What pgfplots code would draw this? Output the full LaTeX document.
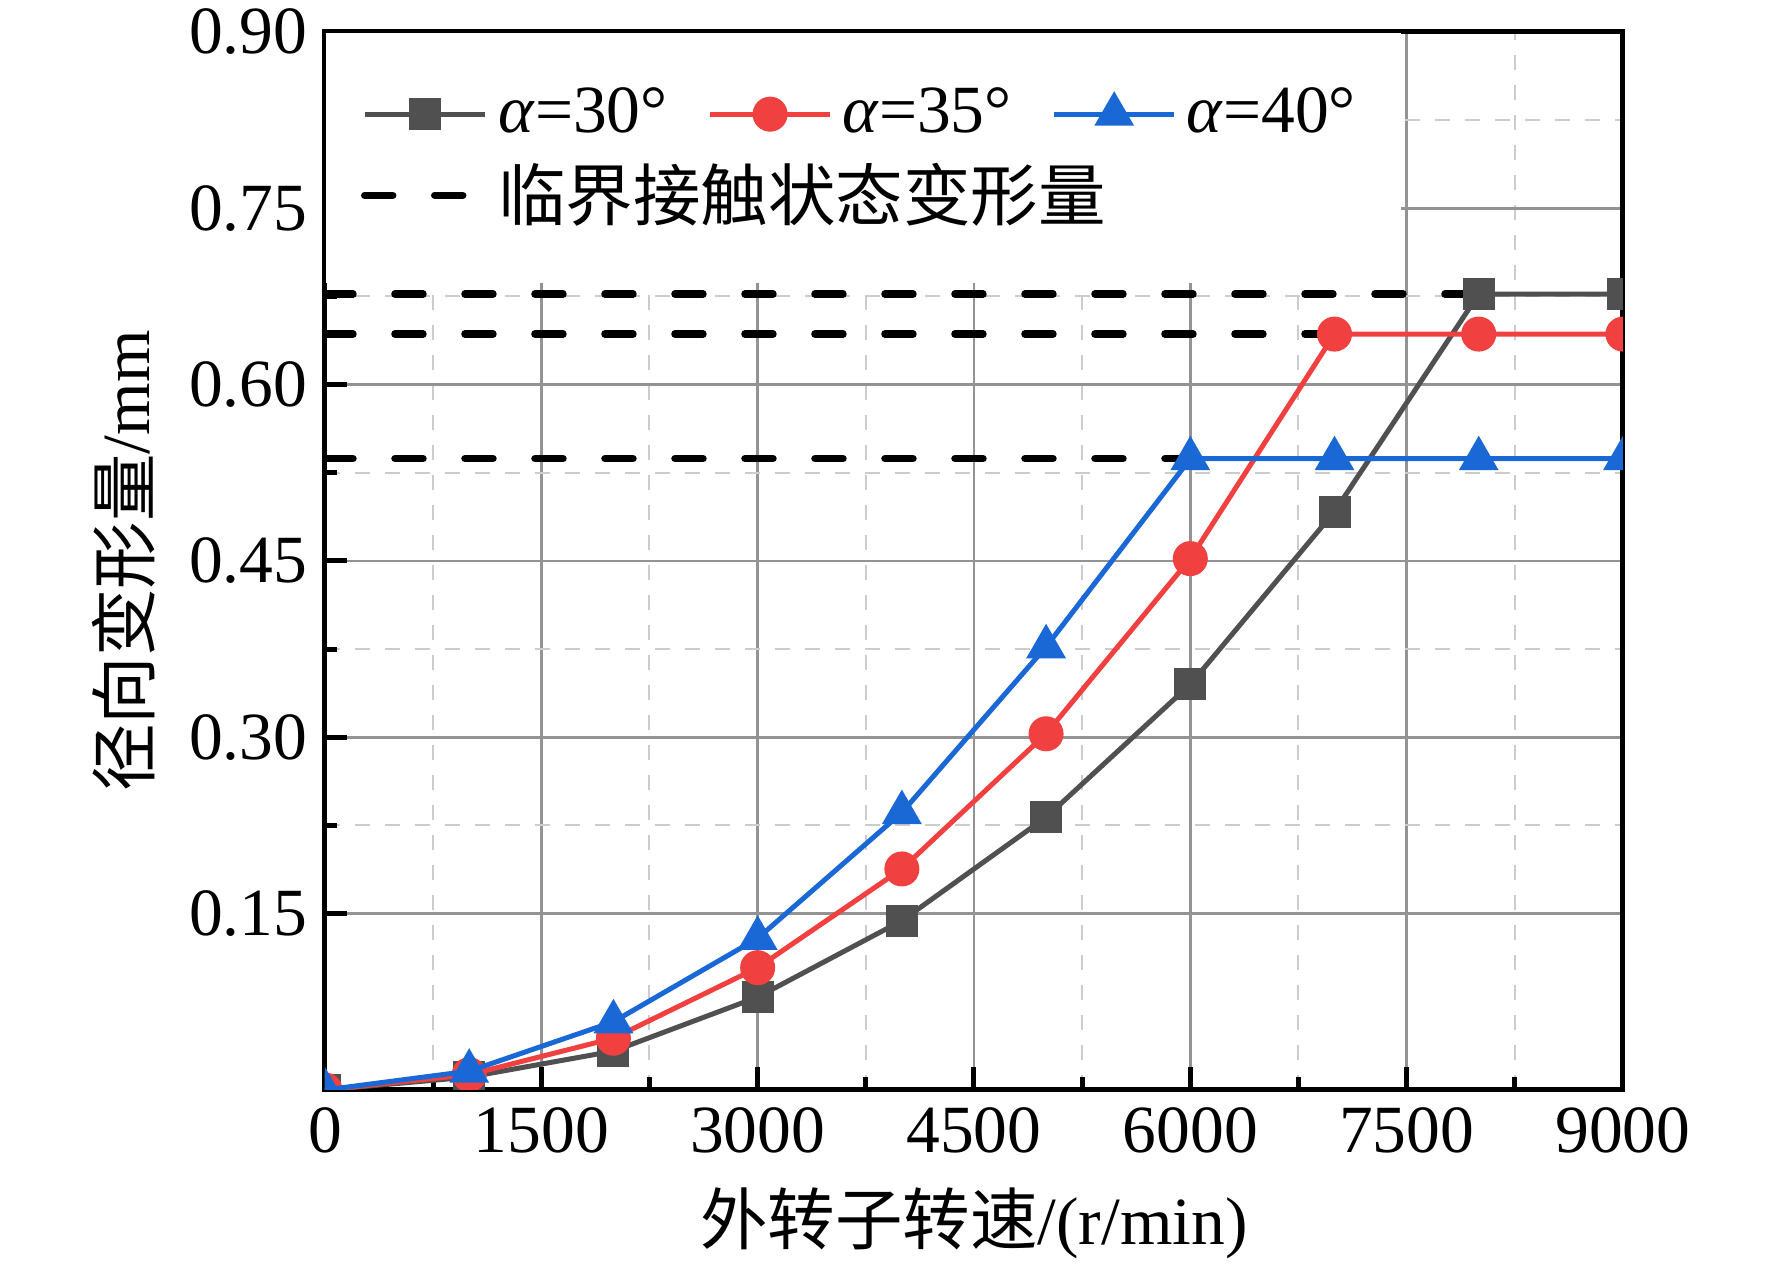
\documentclass[border=0pt]{standalone}
\usepackage{fontspec}
\setmainfont{Liberation Serif}
\newfontfamily\cjk{Noto Sans CJK SC}
\usepackage{pgfplots}
\pgfplotsset{compat=1.18}
\definecolor{cgray}{RGB}{80,80,80}
\definecolor{cred}{RGB}{240,64,64}
\definecolor{cblue}{RGB}{26,104,214}
\newcommand{\fs}{\fontsize{13.5}{16}\selectfont}
\begin{document}
\begin{tikzpicture}
\useasboundingbox (-65pt,-35pt) rectangle (289.4pt,218pt);
\begin{axis}[
  scale only axis,
  width=259.6pt, height=211.6pt,
  xmin=0, xmax=9000, ymin=0, ymax=0.9,
  xtick={0,1500,3000,4500,6000,7500,9000},
  ytick={0.15,0.3,0.45,0.6,0.75,0.9},
  minor x tick num=1, minor y tick num=1,
  scaled x ticks=false, scaled y ticks=false,
  xticklabel style={/pgf/number format/set thousands separator={}},
  yticklabel style={/pgf/number format/.cd, fixed, fixed zerofill, precision=2},
  /pgf/number format/assume math mode=true,
  tick label style={font=\fs},
  label style={font=\fs},
  tick align=inside, tick pos=left,
  major tick length=4.5pt, minor tick length=2.5pt,
  every tick/.style={black, line width=1pt},
  axis line style={black, line width=1pt},
  grid=both,
  major grid style={draw=gray!85, line width=0.5pt},
  minor grid style={draw=gray!40, dashed, line width=0.4pt},
  clip marker paths=true,
  xlabel={{\cjk 外转子转速}/(r/min)},
  ylabel={{\cjk 径向变形量}/mm},
  legend columns=3,
  legend cell align=left,
  legend style={at={(0,1)}, anchor=north west, fill=white, draw=none,
    font=\fs, inner xsep=7pt, inner ysep=9pt, row sep=0.5pt,
    /tikz/every even column/.append style={column sep=6pt}},
  legend image code/.code={\draw[mark repeat=2,mark phase=2,#1] plot coordinates {(0pt,0pt) (12pt,0pt) (24pt,0pt)};},
]
\addplot[black, line width=1.5pt, dash pattern=on 5.6pt off 8.4pt, line cap=round, forget plot] coordinates {(0,0.677) (8000,0.677)};
\addplot[black, line width=1.5pt, dash pattern=on 5.6pt off 8.4pt, line cap=round, forget plot] coordinates {(0,0.643) (7000,0.643)};
\addplot[black, line width=1.5pt, dash pattern=on 5.6pt off 8.4pt, line cap=round, forget plot] coordinates {(0,0.537) (6000,0.537)};

\addplot[cgray, line width=1pt, mark=square*, mark size=2.7pt] coordinates {
(0,0) (1000,0.011) (2000,0.033) (3000,0.079) (4000,0.144) (5000,0.232) (6000,0.345) (7000,0.492) (8000,0.677) (9000,0.677)};
\addlegendentry{\textit{α}=30°}
\addplot[cred, line width=1pt, mark=*, mark size=3pt] coordinates {
(0,0) (1000,0.013) (2000,0.044) (3000,0.104) (4000,0.188) (5000,0.303) (6000,0.452) (7000,0.643) (8000,0.643) (9000,0.643)};
\addlegendentry{\textit{α}=35°}
\addplot[cblue, line width=1pt, mark=triangle*, mark size=3.6pt] coordinates {
(0,0) (1000,0.016) (2000,0.058) (3000,0.129) (4000,0.236) (5000,0.377) (6000,0.537) (7000,0.537) (8000,0.537) (9000,0.537)};
\addlegendentry{\textit{α}=40°}
\addlegendimage{black, line width=1.5pt, dash pattern=on 5.6pt off 8.4pt, line cap=round}
\addlegendentry{\makebox[0pt][l]{\cjk 临界接触状态变形量}}
\end{axis}
\end{tikzpicture}
\end{document}
